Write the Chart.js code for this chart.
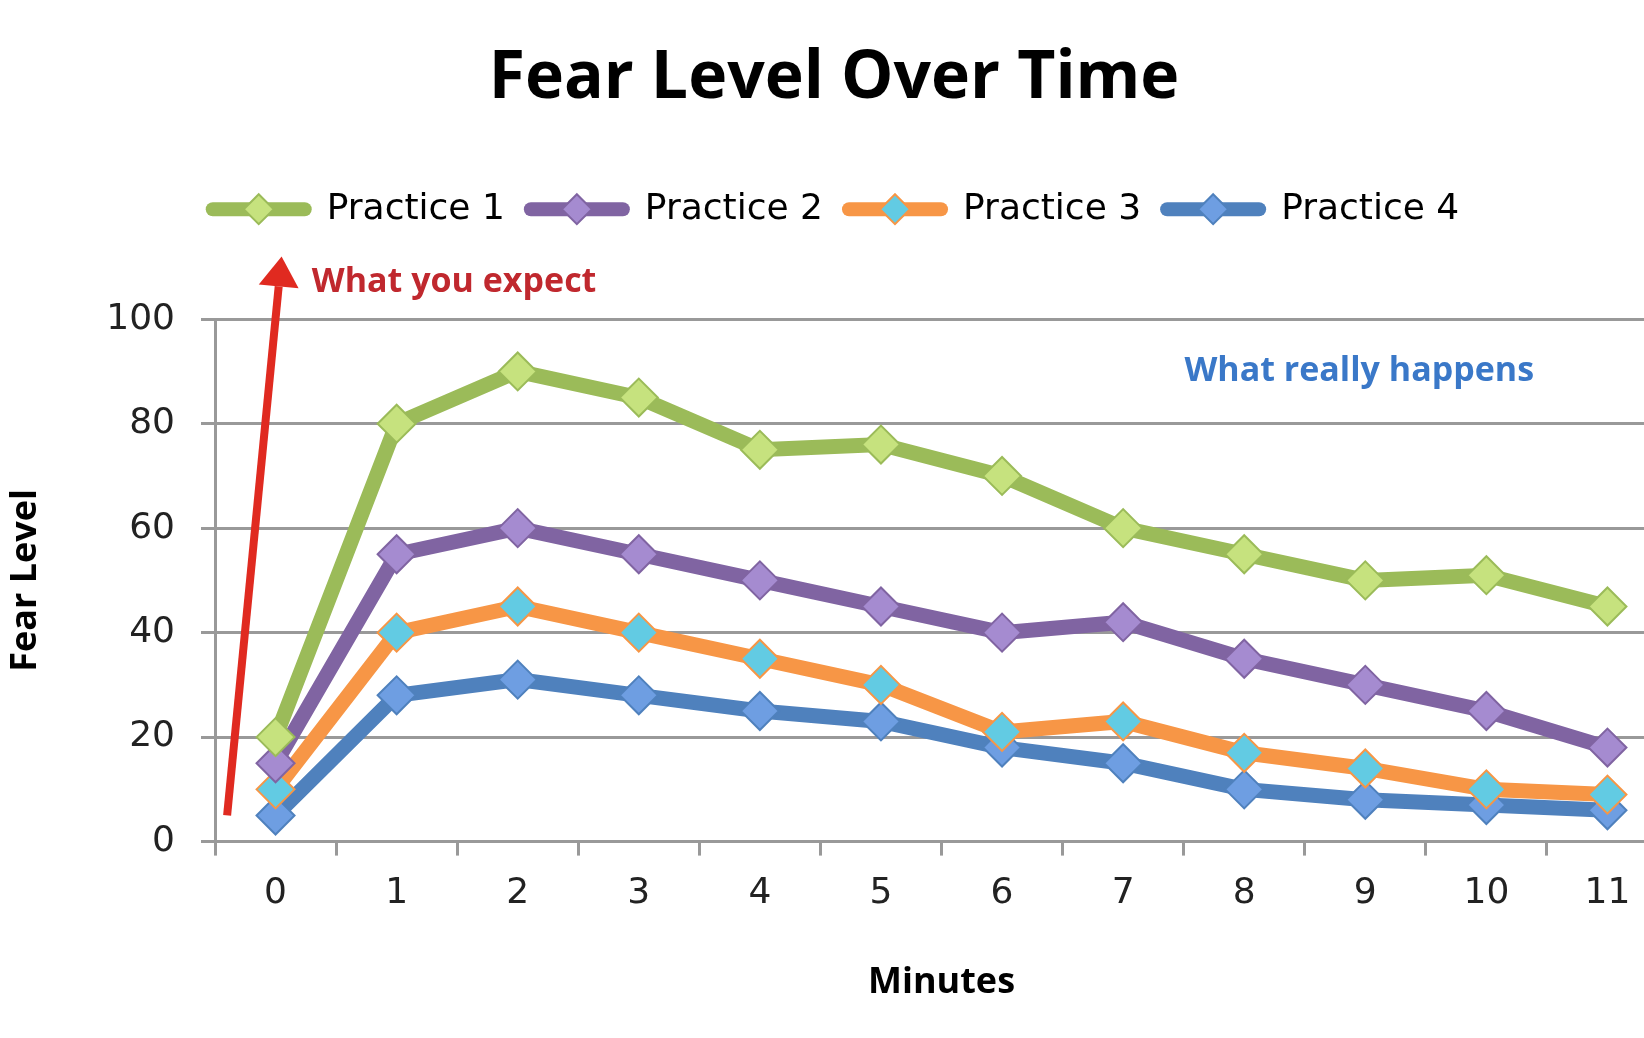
<!DOCTYPE html>
<html><head><meta charset="utf-8">
<script src="https://cdn.jsdelivr.net/npm/chart.js@4/dist/chart.umd.min.js"></script>
<style>html,body{margin:0;padding:0;background:#fff;overflow:hidden;width:1644px;height:1038px}</style>
</head><body>
<canvas id="c" width="1690" height="1038" style="width:1690px;height:1038px"></canvas>
<script>
const minutes = ['0','1','2','3','4','5','6','7','8','9','10','11'];
const practice1 = [20,80,90,85,75,76,70,60,55,50,51,45];
const practice2 = [15,55,60,55,50,45,40,42,35,30,25,18];
const practice3 = [10,40,45,40,35,30,21,23,17,14,10,9];
const practice4 = [5,28,31,28,25,23,18,15,10,8,7,6];
const seriesNames = ['Practice 1','Practice 2','Practice 3','Practice 4'];
const lineColors = ['#9BBB59','#8064A2','#F79646','#4F81BD'];
const markerColors = ['#C6E27E','#A58BD0','#62CBE3','#6E9EE2'];
const BOLD = '"Open Sans", Lato, sans-serif';
const REG = '"DejaVu Sans", sans-serif';

function drawIcon(g,i,cx,cy){
  g.save();
  g.strokeStyle=lineColors[i];g.lineWidth=14;g.lineCap='round';
  g.beginPath();g.moveTo(cx-46,cy);g.lineTo(cx+46,cy);g.stroke();
  g.fillStyle=markerColors[i];g.lineWidth=2;
  g.beginPath();g.moveTo(cx,cy-15);g.lineTo(cx+15,cy);g.lineTo(cx,cy+15);g.lineTo(cx-15,cy);g.closePath();g.fill();g.stroke();
  g.restore();
}

const annot={id:'annot',afterDatasetsDraw(ch){
  const {ctx,scales:{x,y}}=ch;
  ctx.save();
  const x0=x.getPixelForValue(-0.4), y0=y.getPixelForValue(5);
  const x1=x.getPixelForValue(0.05), y1=y.getPixelForValue(112);
  const ang=Math.atan2(y1-y0,x1-x0);
  const hx=x1-Math.cos(ang)*30, hy=y1-Math.sin(ang)*30;
  ctx.strokeStyle='#E02A20';ctx.fillStyle='#E02A20';ctx.lineWidth=8;
  ctx.beginPath();ctx.moveTo(x0,y0);ctx.lineTo(hx,hy);ctx.stroke();
  const px=-Math.sin(ang),py=Math.cos(ang);
  ctx.beginPath();ctx.moveTo(x1,y1);ctx.lineTo(hx+px*20,hy+py*20);ctx.lineTo(hx-px*20,hy-py*20);ctx.closePath();ctx.fill();
  ctx.font='bold 34px '+BOLD;ctx.textBaseline='middle';
  ctx.fillStyle='#C0282E';ctx.textAlign='left';
  ctx.fillText('What you expect',x.getPixelForValue(0.3),y.getPixelForValue(107));
  ctx.fillStyle='#3A78C8';ctx.textAlign='center';
  ctx.fillText('What really happens',x.getPixelForValue(8.95),y.getPixelForValue(90));
  ctx.restore();
},afterDraw(ch){
  const lg=ch.legend; if(!lg||!lg.legendHitBoxes) return;
  lg.legendHitBoxes.forEach((b,i)=>drawIcon(ch.ctx,i,b.left+50,b.top+b.height/2));
}};

const data=[practice1,practice2,practice3,practice4];
const chart=new Chart(document.getElementById('c'),{
  type:'line',
  data:{labels:minutes,datasets:data.map((d,i)=>({
    label:seriesNames[i],data:d,borderColor:lineColors[i],borderWidth:15,
    pointStyle:'rectRot',pointRadius:19,pointBackgroundColor:markerColors[i],
    pointBorderColor:lineColors[i],pointBorderWidth:2,tension:0,order:i
  }))},
  plugins:[annot],
  options:{responsive:false,animation:false,
    layout:{padding:{left:0,right:22,top:0,bottom:30}},
    plugins:{
      title:{display:true,text:'Fear Level Over Time',color:'#000',font:{family:BOLD,size:66,weight:'bold'},padding:{top:40,bottom:50}},
      legend:{display:true,align:'center',
        labels:{color:'#222',font:{family:REG,size:36},boxWidth:100,boxHeight:30,padding:22,
          generateLabels:(ch)=>ch.data.datasets.map((ds,i)=>({text:ds.label,fillStyle:'rgba(0,0,0,0)',strokeStyle:'rgba(0,0,0,0)',datasetIndex:i,hidden:false,lineWidth:0}))}
      },
      tooltip:{enabled:false}
    },
    scales:{
      x:{offset:true,grid:{display:true,drawOnChartArea:false,offset:true,color:'#999',lineWidth:3,tickLength:14},
        border:{color:'#999',width:3},
        ticks:{color:'#222',font:{family:REG,size:36},padding:16},
        title:{display:true,text:'Minutes',color:'#000',font:{family:BOLD,size:36,weight:'bold'},padding:{top:30}}},
      y:{min:0,max:100,ticks:{stepSize:20,color:'#222',font:{family:REG,size:36},padding:26},
        grid:{color:'#999',lineWidth:3,tickLength:14},border:{color:'#999',width:3},
        title:{display:true,text:'Fear Level',color:'#000',font:{family:BOLD,size:36,weight:'bold'},padding:{bottom:10}},
        afterFit(s){s.width=215;}}
    }
  }
});
const origFit=chart.legend.fit;
chart.legend.fit=function(){origFit.call(this);this.height=150;};
chart.update();
</script>
</body></html>
